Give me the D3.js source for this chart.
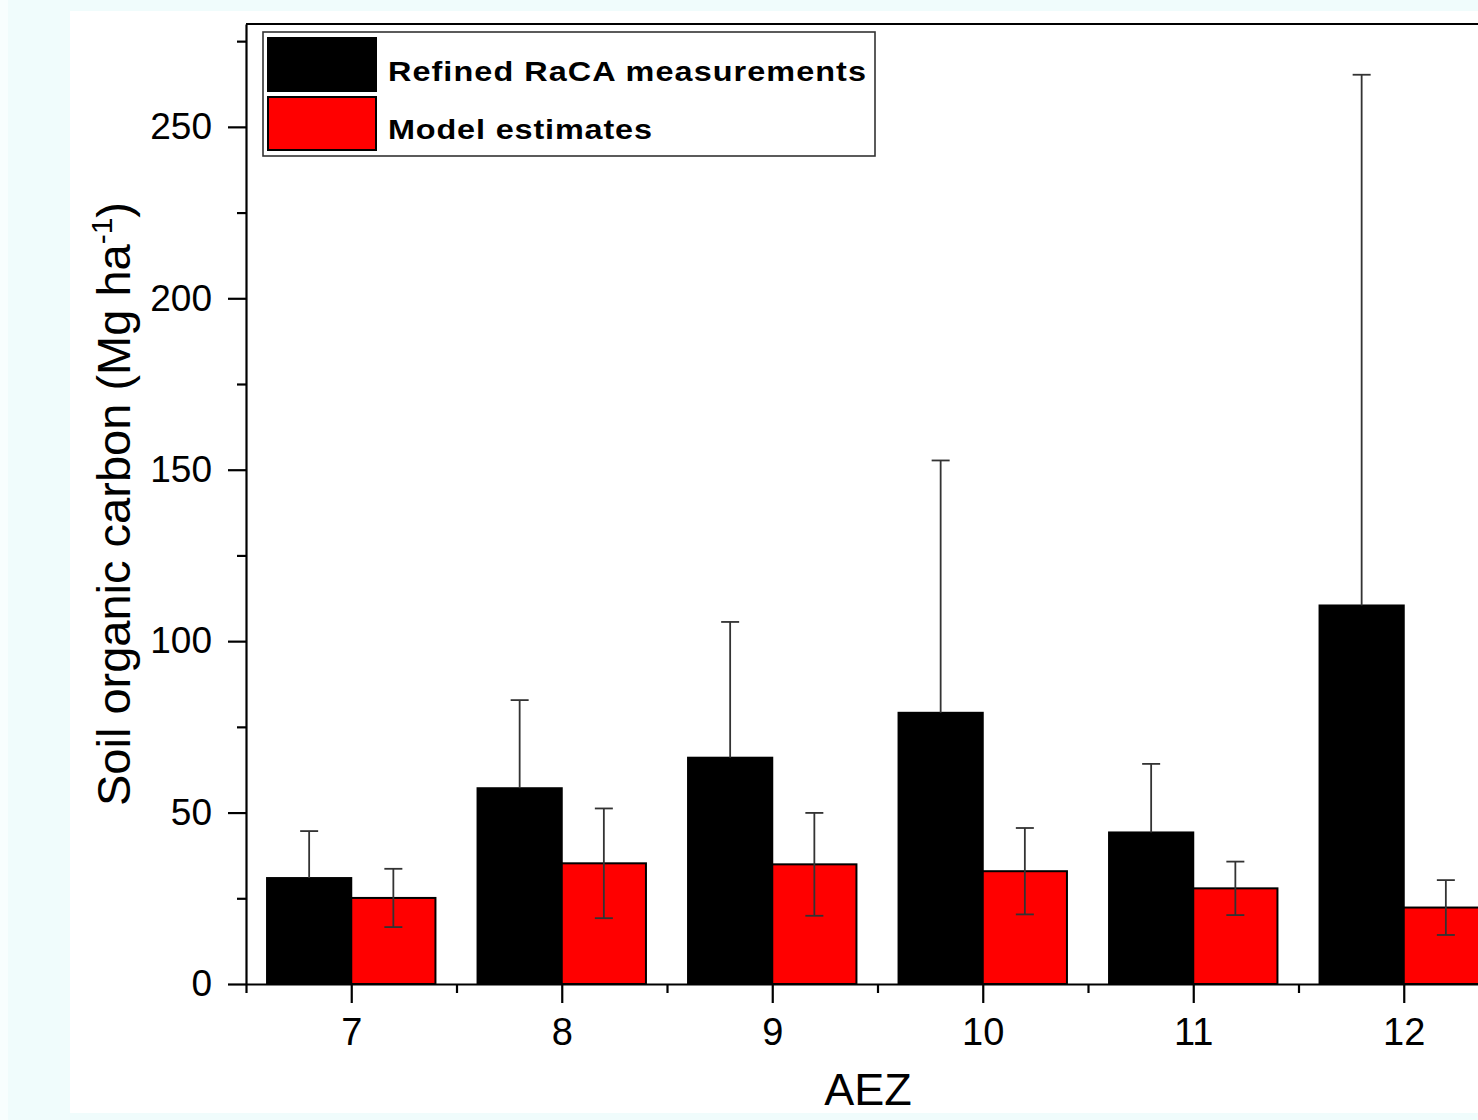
<!DOCTYPE html>
<html>
<head>
<meta charset="utf-8">
<script src="https://cdn.jsdelivr.net/npm/d3@7"></script>
<style>
  html, body { margin: 0; padding: 0; background: #f0fcfc; }
  svg { display: block; }
</style>
</head>
<body>
<div id="chart"></div>
<script>
// AEZ categories and values
const aez = [7, 8, 9, 10, 11, 12]
const racaMean = [30.9, 57.1, 66.0, 79.1, 44.2, 110.4]
const racaSd = [13.7, 25.7, 39.6, 73.6, 20.0, 154.8]
const modelMean = [25.1, 35.2, 34.9, 32.9, 27.9, 22.3]
const modelSd = [8.5, 16.0, 15.0, 12.6, 7.8, 8.0]
const yMajorTicks = [0, 50, 100, 150, 200, 250]
const yMinorTicks = [25, 75, 125, 175, 225, 275]
const xMinorTicks = [6.5, 7.5, 8.5, 9.5, 10.5, 11.5, 12.5]
const legendLabels = ['Refined RaCA measurements', 'Model estimates']

const width = 1478
const height = 1120
const font = '"Liberation Sans", Arial, sans-serif'

const svg = d3.select('#chart').append('svg')
  .attr('width', width)
  .attr('height', height)

// backgrounds
svg.append('rect').attr('x', 0).attr('y', 0).attr('width', 8).attr('height', height).attr('fill', '#f8fefe')
svg.append('rect').attr('x', 70).attr('y', 11).attr('width', width - 70).attr('height', 1102).attr('fill', '#ffffff')

const x = d3.scaleLinear().domain([6.5, 12.5]).range([246, 1509])
const y = d3.scaleLinear().domain([0, 280]).range([984, 24])
const bw = x(7.4) - x(7)

const gBars = svg.append('g')
const gErr = svg.append('g')
const gAxes = svg.append('g')

// bars
const series = [
  { mean: racaMean, sd: racaSd, fill: '#000000', off: -0.2, lower: false },
  { mean: modelMean, sd: modelSd, fill: '#ff0000', off: 0.2, lower: true }
]

series.forEach((s, si) => {
  const rows = aez.map((c, i) => ({ c: c, m: s.mean[i], sd: s.sd[i] }))
  gBars.selectAll('.bar' + si)
    .data(rows)
    .join('rect')
    .attr('class', 'bar' + si)
    .attr('x', d => x(d.c + s.off) - bw / 2)
    .attr('width', bw)
    .attr('y', d => y(d.m))
    .attr('height', d => y(0) - y(d.m))
    .attr('fill', s.fill)
    .attr('stroke', '#000')
    .attr('stroke-width', 2)

  const err = gErr.selectAll('.err' + si)
    .data(rows)
    .join('g')
    .attr('class', 'err' + si)
    .attr('stroke', '#333')
    .attr('stroke-width', 1.8)

  err.append('line')
    .attr('x1', d => x(d.c + s.off)).attr('x2', d => x(d.c + s.off))
    .attr('y1', d => y(d.m + d.sd))
    .attr('y2', d => s.lower ? y(d.m - d.sd) : y(d.m))
  err.append('line')
    .attr('x1', d => x(d.c + s.off) - 9).attr('x2', d => x(d.c + s.off) + 9)
    .attr('y1', d => y(d.m + d.sd)).attr('y2', d => y(d.m + d.sd))
  if (s.lower) {
    err.append('line')
      .attr('x1', d => x(d.c + s.off) - 9).attr('x2', d => x(d.c + s.off) + 9)
      .attr('y1', d => y(d.m - d.sd)).attr('y2', d => y(d.m - d.sd))
  }
})

// axes
function styleAxis(g) {
  g.selectAll('path, line').attr('stroke', '#000').attr('stroke-width', 2.2)
  g.selectAll('text').attr('font-family', font).attr('font-size', 37).attr('fill', '#000')
}

gAxes.append('g')
  .attr('transform', `translate(${x(6.5)},0)`)
  .call(d3.axisLeft(y).tickValues(yMajorTicks).tickSize(18).tickPadding(16).tickSizeOuter(0))
  .call(styleAxis)

gAxes.append('g')
  .attr('transform', `translate(${x(6.5)},0)`)
  .call(d3.axisLeft(y).tickValues(yMinorTicks).tickSize(9).tickFormat('').tickSizeOuter(0))
  .call(styleAxis)
  .call(g => g.select('.domain').remove())

gAxes.append('g')
  .attr('transform', `translate(0,${y(0)})`)
  .call(d3.axisBottom(x).tickValues(aez).tickSize(19).tickPadding(15).tickSizeOuter(0).tickFormat(d3.format('d')))
  .call(styleAxis)
  .call(g => g.selectAll('text').attr('font-size', 38))

gAxes.append('g')
  .attr('transform', `translate(0,${y(0)})`)
  .call(d3.axisBottom(x).tickValues(xMinorTicks).tickSize(9).tickFormat('').tickSizeOuter(0))
  .call(styleAxis)
  .call(g => g.select('.domain').remove())

// top frame
gAxes.append('line')
  .attr('x1', x(6.5)).attr('x2', x(12.5))
  .attr('y1', y(280)).attr('y2', y(280))
  .attr('stroke', '#000').attr('stroke-width', 2.2)

// axis titles
svg.append('text')
  .attr('x', 868).attr('y', 1105)
  .attr('text-anchor', 'middle')
  .attr('font-family', font).attr('font-size', 45)
  .text('AEZ')

const yTitle = svg.append('text')
  .attr('transform', `translate(130,${(y(0) + y(280)) / 2}) rotate(-90)`)
  .attr('text-anchor', 'middle')
  .attr('font-family', font).attr('font-size', 47)
yTitle.append('tspan').text('Soil organic carbon (Mg ha')
yTitle.append('tspan').attr('font-size', 30).attr('dy', -18).text('-1')
yTitle.append('tspan').attr('dy', 18).text(')')

// legend
const legend = svg.append('g')
legend.append('rect')
  .attr('x', 263).attr('y', 32).attr('width', 612).attr('height', 124)
  .attr('fill', '#fff').attr('stroke', '#333').attr('stroke-width', 1.6)

const legendFills = ['#000000', '#ff0000']
const legendWidths = [478, 264]
const stretch = 1.2
legendLabels.forEach((lab, i) => {
  legend.append('rect')
    .attr('x', 268).attr('y', 38 + i * 59).attr('width', 108).attr('height', 53)
    .attr('fill', legendFills[i]).attr('stroke', '#000').attr('stroke-width', 2)
  legend.append('text')
    .attr('transform', `translate(388,${81 + i * 58}) scale(${stretch},1)`)
    .attr('font-family', font).attr('font-size', 27).attr('font-weight', 'bold')
    .attr('textLength', legendWidths[i] / stretch).attr('lengthAdjust', 'spacing')
    .text(lab)
})
</script>
</body>
</html>
